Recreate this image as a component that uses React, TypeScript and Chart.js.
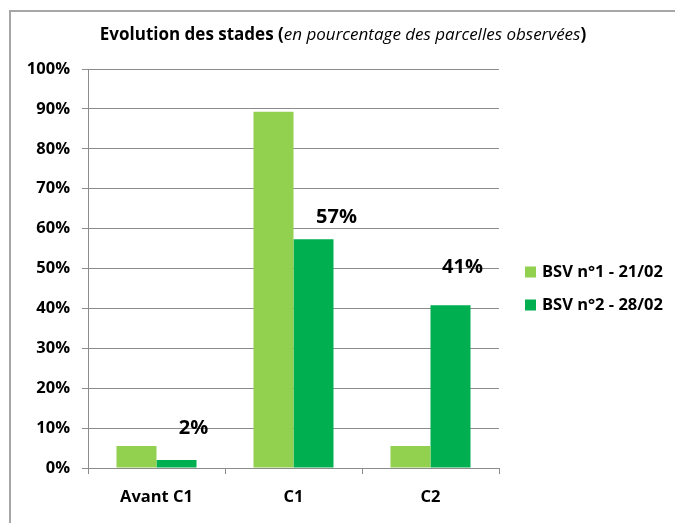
import React, { useEffect, useRef } from "react";
import { Chart, registerables } from "chart.js";

Chart.register(...registerables);

const categories = ["Avant C1", "C1", "C2"];
const seriesNames = ["BSV n°1 - 21/02", "BSV n°2 - 28/02"];
const bsv1Values = [5.5, 89.3, 5.5];
const bsv2Values = [2, 57.3, 40.8];
const bsv2Labels = ["2%", "57%", "41%"];
const titleParts = ["Evolution des stades (", "en pourcentage des parcelles observées", ")"];

const FONT = "'Open Sans', Lato, sans-serif";
const GRID = "#8c8c8c";
const LIGHT_GREEN = "#92D050";
const GREEN = "#00B050";

const framePlugin = {
  id: "frame",
  beforeDraw(chart: any) {
    const ctx = chart.ctx;
    ctx.save();
    ctx.fillStyle = "#ffffff";
    ctx.fillRect(0, 0, chart.width, chart.height);
    ctx.fillStyle = "#a6a6a6";
    ctx.fillRect(9, 10, 2, chart.height - 10);
    ctx.fillRect(9, 10, chart.width - 9, 2);
    ctx.restore();
  },
};

const titlePlugin = {
  id: "mixedTitle",
  afterDraw(chart: any) {
    const ctx = chart.ctx;
    ctx.save();
    const fonts = [
      `bold 17px ${FONT}`,
      `italic 17px ${FONT}`,
      `bold 17px ${FONT}`,
    ];
    let total = 0;
    const widths = titleParts.map((t, i) => {
      ctx.font = fonts[i];
      const w = ctx.measureText(t).width;
      total += w;
      return w;
    });
    let x = 343 - total / 2;
    ctx.fillStyle = "#000";
    ctx.textBaseline = "middle";
    ctx.textAlign = "left";
    titleParts.forEach((t, i) => {
      ctx.font = fonts[i];
      ctx.fillText(t, x, 35);
      x += widths[i];
    });
    ctx.restore();
  },
};

const legendPlugin = {
  id: "sideLegend",
  afterDraw(chart: any) {
    const ctx = chart.ctx;
    const area = chart.chartArea;
    ctx.save();
    ctx.font = `bold 16.5px ${FONT}`;
    ctx.textBaseline = "middle";
    ctx.textAlign = "left";
    chart.data.datasets.forEach((ds: any, i: number) => {
      const y = 272 + i * 33;
      const x = area.right + 26;
      ctx.fillStyle = ds.backgroundColor;
      ctx.fillRect(x, y - 5.5, 11, 11);
      ctx.fillStyle = "#000";
      ctx.fillText(ds.label, x + 17, y);
    });
    ctx.restore();
  },
};

const labelOffsets = [
  [17, -32],
  [23, -22],
  [12, -38],
];

const dataLabelPlugin = {
  id: "barLabels",
  afterDatasetsDraw(chart: any) {
    const ctx = chart.ctx;
    const meta = chart.getDatasetMeta(1);
    ctx.save();
    ctx.font = `bold 20px ${FONT}`;
    ctx.fillStyle = "#000";
    ctx.textAlign = "center";
    ctx.textBaseline = "middle";
    meta.data.forEach((bar: any, i: number) => {
      const [dx, dy] = labelOffsets[i];
      ctx.fillText(bsv2Labels[i], bar.x + dx, bar.y + dy);
    });
    ctx.restore();
  },
};

export default function App() {
  const ref = useRef<HTMLCanvasElement | null>(null);
  useEffect(() => {
    if (!ref.current) return;
    const chart = new Chart(ref.current, {
      type: "bar",
      data: {
        labels: categories,
        datasets: [
          {
            label: seriesNames[0],
            data: bsv1Values,
            backgroundColor: LIGHT_GREEN,
            categoryPercentage: 0.584,
            barPercentage: 1,
          },
          {
            label: seriesNames[1],
            data: bsv2Values,
            backgroundColor: GREEN,
            categoryPercentage: 0.584,
            barPercentage: 1,
          },
        ],
      },
      options: {
        responsive: false,
        animation: false,
        devicePixelRatio: 1,
        layout: { padding: { top: 69, right: 176, bottom: 0, left: 0 } },
        plugins: {
          legend: { display: false },
          title: { display: false },
          tooltip: { enabled: false },
        },
        scales: {
          x: {
            grid: {
              drawOnChartArea: false,
              drawTicks: true,
              tickLength: 6,
              color: GRID,
            },
            border: { color: GRID },
            ticks: {
              color: "#000",
              padding: 13,
              font: { family: FONT, weight: "bold", size: 16.5 },
            },
            afterFit(scale: any) {
              scale.height = 55;
            },
          },
          y: {
            min: 0,
            max: 100,
            grid: { color: GRID, tickLength: 6 },
            border: { color: GRID },
            ticks: {
              stepSize: 10,
              color: "#000",
              padding: 12,
              font: { family: FONT, weight: "bold", size: 16.5 },
              callback: (v: any) => `${v}%`,
            },
            afterFit(scale: any) {
              scale.width = 88;
            },
          },
        },
      },
      plugins: [framePlugin, titlePlugin, legendPlugin, dataLabelPlugin],
    });
    return () => chart.destroy();
  }, []);
  return (
    <div style={{ position: "fixed", left: 0, top: 0, width: 675, height: 523 }}>
      <canvas ref={ref} width={675} height={523} style={{ display: "block" }} />
    </div>
  );
}
